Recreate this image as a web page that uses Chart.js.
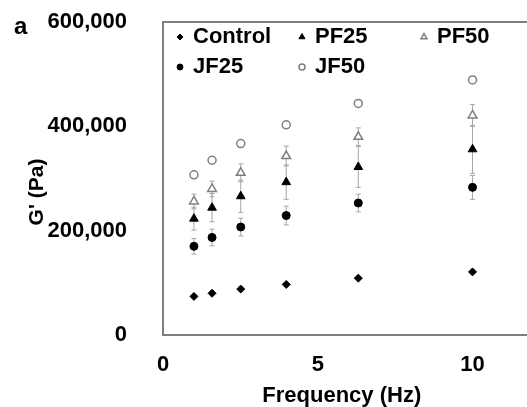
<!DOCTYPE html>
<html>
<head>
<meta charset="utf-8">
<script src="https://cdn.jsdelivr.net/npm/chart.js@4/dist/chart.umd.min.js"></script>
<style>
  html, body { margin: 0; padding: 0; background: #fff; }
  #wrap { width: 527px; height: 407px; }
</style>
</head>
<body>
<div id="wrap"><canvas id="chart"></canvas></div>
<script>
// frequency (Hz)
const freq = [1, 1.585, 2.512, 3.981, 6.31, 10];

// G' (Pa) per sample
const control = [74000, 80000, 88000, 97000, 109000, 121000];
const pf25 = [223000, 244000, 266000, 293000, 322000, 356000];
const pf50 = [256000, 280000, 311000, 343000, 380000, 421000];
const jf25 = [170000, 187000, 207000, 229000, 253000, 283000];
const jf50 = [307000, 335000, 367000, 403000, 444000, 489000];

// error bars (+/-)
const pf25Err = [22000, 27000, 31000, 33000, 39000, 46000];
const pf50Err = [14000, 15000, 17000, 19000, 17000, 21000];
const jf25Err = [15000, 16000, 17000, 18000, 17000, 23000];

const xTicks = [0, 5, 10];
const yTicks = [0, 200000, 400000, 600000];

const font = "'Liberation Sans', Arial, sans-serif";
const frameGray = '#7f7f7f';

function pts(ys) {
  return freq.map((f, i) => ({ x: f, y: ys[i] }));
}

// error bars, drawn under the markers
const errorBars = {
  id: 'errorBars',
  beforeDatasetsDraw(chart) {
    const ctx = chart.ctx;
    const xs = chart.scales.x, ys = chart.scales.y;
    ctx.save();
    ctx.strokeStyle = '#a6a6a6';
    ctx.lineWidth = 1;
    chart.data.datasets.forEach(ds => {
      if (!ds.err) return;
      ds.data.forEach((p, i) => {
        const x = xs.getPixelForValue(p.x);
        const y1 = ys.getPixelForValue(p.y + ds.err[i]);
        const y2 = ys.getPixelForValue(p.y - ds.err[i]);
        ctx.beginPath();
        ctx.moveTo(x, y1); ctx.lineTo(x, y2);
        ctx.moveTo(x - 2.5, y1); ctx.lineTo(x + 2.5, y1);
        ctx.moveTo(x - 2.5, y2); ctx.lineTo(x + 2.5, y2);
        ctx.stroke();
      });
    });
    ctx.restore();
  }
};

// frame, y title, panel letter and the legend inside the plot
const extras = {
  id: 'extras',
  afterDraw(chart) {
    const ctx = chart.ctx;
    const a = chart.chartArea;
    ctx.save();
    ctx.strokeStyle = frameGray;
    ctx.lineWidth = 2;
    ctx.beginPath();
    ctx.moveTo(chart.width + 2, a.top);
    ctx.lineTo(a.left, a.top);
    ctx.lineTo(a.left, a.bottom);
    ctx.lineTo(chart.width + 2, a.bottom);
    ctx.stroke();

    ctx.fillStyle = '#000';
    ctx.font = 'bold 24px ' + font;
    ctx.textAlign = 'left';
    ctx.textBaseline = 'middle';
    ctx.fillText('a', 14, 27);

    ctx.save();
    ctx.translate(37, 192);
    ctx.rotate(-Math.PI / 2);
    ctx.textAlign = 'center';
    ctx.font = 'bold 21px ' + font;
    ctx.fillText("G' (Pa)", 0, 0);
    ctx.restore();

    // legend: 3 columns, 2 rows
    ctx.font = 'bold 22px ' + font;
    ctx.textAlign = 'left';
    chart.data.datasets.forEach((ds, i) => {
      const col = i % 3, row = Math.floor(i / 3);
      const mx = a.left + 17 + col * 122;
      const my = a.top + 15 + row * 30;
      ctx.fillStyle = ds.backgroundColor;
      ctx.strokeStyle = ds.borderColor;
      ctx.lineWidth = ds.borderWidth;
      Chart.helpers.drawPoint(ctx, {
        pointStyle: ds.pointStyle,
        radius: ds.pointStyle === 'triangle' ? 3.5 : 3,
        rotation: 0,
        borderWidth: ds.borderWidth
      }, mx, my);
      ctx.fillStyle = '#000';
      ctx.fillText(ds.label, mx + 13, my);
    });
    ctx.restore();
  }
};

const datasets = [
  { label: 'Control', data: pts(control), pointStyle: 'rectRot', pointRadius: 4,
    backgroundColor: '#000', borderColor: '#000', borderWidth: 1 },
  { label: 'PF25', data: pts(pf25), err: pf25Err, pointStyle: 'triangle', pointRadius: 5,
    backgroundColor: '#000', borderColor: '#000', borderWidth: 1 },
  { label: 'PF50', data: pts(pf50), err: pf50Err, pointStyle: 'triangle', pointRadius: 5,
    backgroundColor: '#fff', borderColor: frameGray, borderWidth: 1.5 },
  { label: 'JF25', data: pts(jf25), err: jf25Err, pointStyle: 'circle', pointRadius: 4,
    backgroundColor: '#000', borderColor: '#000', borderWidth: 1 },
  { label: 'JF50', data: pts(jf50), pointStyle: 'circle', pointRadius: 4,
    backgroundColor: '#fff', borderColor: frameGray, borderWidth: 1.5 }
];

new Chart(document.getElementById('chart'), {
  type: 'scatter',
  data: { datasets: datasets },
  plugins: [errorBars, extras],
  options: {
    responsive: true,
    maintainAspectRatio: false,
    animation: false,
    layout: { padding: { top: 22, right: 0, left: 0, bottom: 0 } },
    plugins: { legend: { display: false }, tooltip: { enabled: false } },
    scales: {
      x: {
        type: 'linear', min: 0, max: 11.55,
        afterBuildTicks: s => { s.ticks = xTicks.map(v => ({ value: v })); },
        afterFit: s => { s.height = 72; s.paddingLeft = 0; s.paddingRight = 0; },
        grid: { display: false },
        border: { display: false },
        ticks: { padding: 9, color: '#000', font: { family: font, size: 22, weight: 'bold' } },
        title: {
          display: true, text: 'Frequency (Hz)', color: '#000',
          padding: 0, font: { family: font, size: 22, weight: 'bold', lineHeight: 1 }
        }
      },
      y: {
        type: 'linear', min: 0, max: 600000,
        afterBuildTicks: s => { s.ticks = yTicks.map(v => ({ value: v })); },
        afterFit: s => { s.width = 163; s.paddingTop = 0; s.paddingBottom = 0; },
        grid: { display: false },
        border: { display: false },
        ticks: {
          padding: 28, color: '#000',
          font: { family: font, size: 22, weight: 'bold' },
          callback: v => v.toLocaleString('en-US')
        }
      }
    }
  }
});
</script>
</body>
</html>
